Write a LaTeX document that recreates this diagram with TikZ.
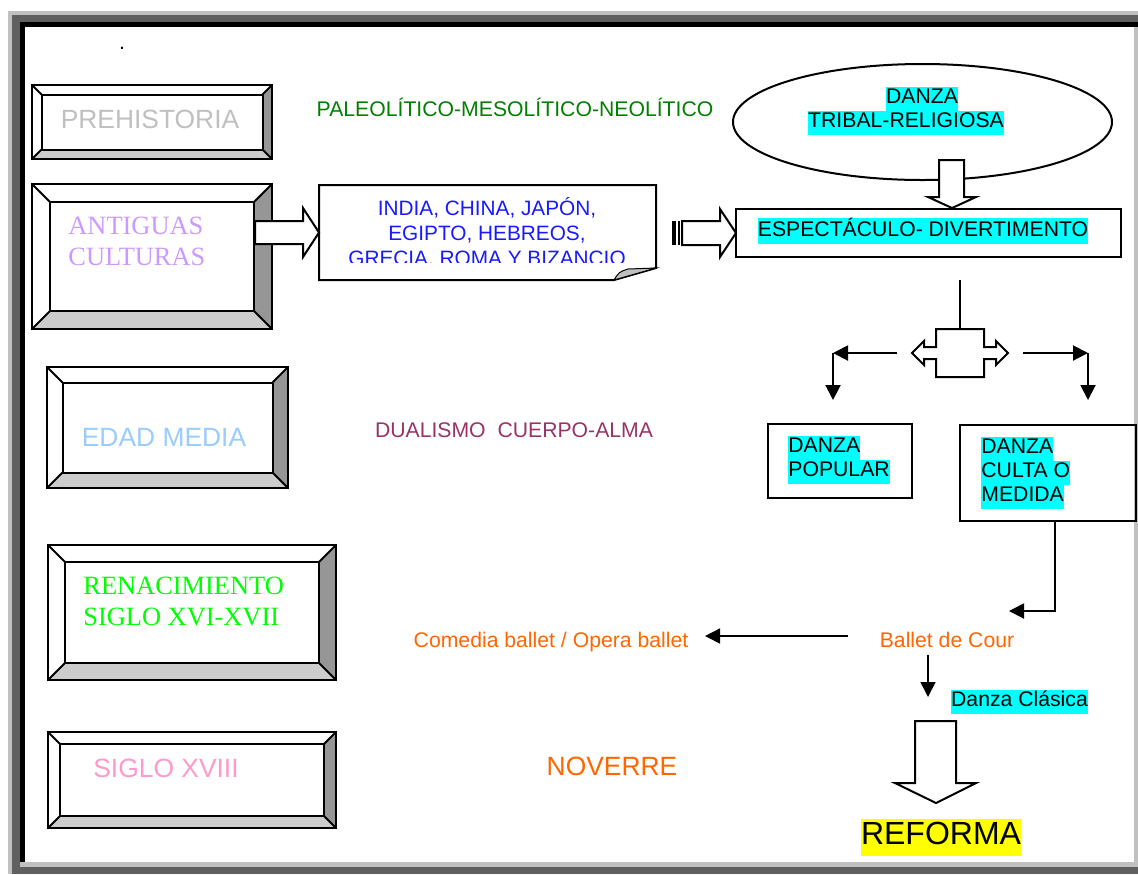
\documentclass[tikz,border=0pt]{standalone}
\usepackage{fontspec}
\setmainfont{Liberation Sans}
\newfontfamily\timesfont{Liberation Serif}
\usetikzlibrary{shapes.geometric,arrows.meta}

\definecolor{prehistgray}{HTML}{C0C0C0}
\definecolor{antiguaslila}{HTML}{CC99FF}
\definecolor{medialblue}{HTML}{99CCFF}
\definecolor{renacgreen}{HTML}{00FF00}
\definecolor{siglopink}{HTML}{FF99CC}
\definecolor{paleogreen}{HTML}{008000}
\definecolor{dualplum}{HTML}{993366}
\definecolor{balletorange}{HTML}{FF6600}
\definecolor{framedark}{HTML}{606060}
\definecolor{bevelright}{HTML}{969696}
\definecolor{bevelbottom}{HTML}{CCCCCC}
\definecolor{markcyan}{HTML}{00FFFF}
\definecolor{markyellow}{HTML}{FFFF00}
\definecolor{textblue}{HTML}{1A1AFF}

\newcommand{\hl}[2][markcyan]{{\setlength{\fboxsep}{0pt}\colorbox{#1}{\strut#2}}}

\newcommand{\bevelbox}[5]{%
	\fill[white] (#1,#2) rectangle (#3,#4);
	\fill[bevelright] (#3,#2) -- (#3,#4) -- (#3-#5,#4-#5) -- (#3-#5,#2+#5) -- cycle;
	\fill[bevelbottom] (#1,#4) -- (#3,#4) -- (#3-#5,#4-#5) -- (#1+#5,#4-#5) -- cycle;
	\draw[line width=1pt] (#1,#2) rectangle (#3,#4) (#1+#5,#2+#5) rectangle (#3-#5,#4-#5);
	\draw[line width=1pt] (#1,#2) -- (#1+#5,#2+#5) (#3,#2) -- (#3-#5,#2+#5) (#1,#4) -- (#1+#5,#4-#5) (#3,#4) -- (#3-#5,#4-#5);
}

\begin{document}
\begin{tikzpicture}[x=0.5pt, y=-0.5pt,
	every node/.style={inner sep=0pt},
	txt/.style={font=\fontsize{10.6}{12}\selectfont},
	era/.style={font=\fontsize{13.2}{15.75}\selectfont},
	oldera/.style={font=\timesfont\fontsize{13.2}{15.75}\selectfont, align=left},
	plainbox/.style={draw, line width=1pt},
	hollow/.style={draw, fill=white, line width=1pt},
	pointer/.style={line width=1pt, -{Triangle[length=7.5pt,width=7.5pt]}}]

	\useasboundingbox (0,0) rectangle (1138,874);
	\fill[prehistgray] (8,11) rectangle (1138,874);
	\fill[framedark] (12,15) rectangle (1138,22);
	\fill[framedark] (12,15) rectangle (20,874);
	\fill[framedark] (12,867) rectangle (1138,874);
	\fill[black] (20,22) rectangle (1138,27);
	\fill[black] (20,22) rectangle (25,862);
	\fill[white] (25,27) rectangle (1134,862);

	\node[txt] (dot) at (122,48) {.};

	\bevelbox{32}{85}{272}{159}{9.5}
	\bevelbox{32}{184}{272}{329}{18}
	\bevelbox{47}{367}{288}{488}{15.5}
	\bevelbox{48}{545}{336}{680}{17}
	\bevelbox{48}{732}{336}{828}{12}

	\node[era, text=prehistgray, anchor=base] (prehistoria) at (150,128) {PREHISTORIA};
	\node[oldera, text=antiguaslila, anchor=base west] (antiguas) at (68,265.5) {ANTIGUAS\\CULTURAS};
	\node[era, text=medialblue, anchor=base] (edadmedia) at (164,446) {EDAD MEDIA};
	\node[oldera, text=renacgreen, anchor=base west] (renacimiento) at (83,625.5) {RENACIMIENTO\\SIGLO XVI-XVII};
	\node[era, text=siglopink, anchor=base] (sigloxviii) at (166,777) {SIGLO XVIII};

	\node[txt, text=paleogreen, anchor=base] (paleolitico) at (515,116) {PALEOLÍTICO-MESOLÍTICO-NEOLÍTICO};
	\node[txt, text=dualplum, anchor=base] (dualismo) at (514,437) {DUALISMO\ \ CUERPO-ALMA};

	\draw[hollow] (319,185) -- (656,185) -- (656,268) -- (614,280) -- (319,280) -- cycle;
	\draw[line width=0.5pt, fill=prehistgray] (614,280) .. controls (619,272) .. (628,269) -- (656,268) -- cycle;
	\begin{scope}
		\clip (319,185) rectangle (656,262);
		\node[text=textblue, align=center, font=\fontsize{10.4}{12.5}\selectfont, anchor=base] (pueblos) at (487,265) {INDIA, CHINA, JAPÓN,\\EGIPTO, HEBREOS,\\GRECIA. ROMA Y BIZANCIO};
	\end{scope}

	\draw[hollow] (255,221) -- (303,221) -- (303,208) -- (319,232.5) -- (303,257) -- (303,244) -- (255,244) -- cycle;

	\node[draw, ellipse, line width=1pt, minimum width=189.5pt, minimum height=58pt] (tribal) at (922.5,122) {};
	\node[txt, align=center] (tribaltxt) at (922,111) {\hl{DANZA}\\\hl{TRIBAL-RELIGIOSA}\rule{16pt}{0pt}};
	\draw[hollow] (939,160) -- (964,160) -- (964,197) -- (976,197) -- (952,208) -- (928,197) -- (939,197) -- cycle;

	\draw[plainbox] (736,209) rectangle (1121,257);
	\node[txt] (espectaculo) at (923,231) {\hl{ESPECTÁCULO- DIVERTIMENTO}};
	\fill[black] (672,221) rectangle (676,245);
	\fill[black] (678,221) rectangle (680,245);
	\draw[hollow] (682,221) -- (720,221) -- (720,209) -- (736,233) -- (720,257) -- (720,245) -- (682,245) -- cycle;

	\coordinate (stemtop) at (960,280);
	\coordinate (splittop) at (960,329);
	\draw[line width=1pt] (stemtop) -- (splittop);
	\draw[hollow] (936,329) -- (984,329) -- (984,347) -- (996,347) -- (996,341) -- (1008,353) -- (996,365) -- (996,359) -- (984,359) -- (984,377) -- (936,377) -- (936,359) -- (924,359) -- (924,365) -- (912,353) -- (924,341) -- (924,347) -- (936,347) -- cycle;

	\coordinate (lstart) at (897,353);
	\coordinate (lcorner) at (833,353);
	\coordinate (ldown) at (833,400);
	\coordinate (rstart) at (1023,353);
	\coordinate (rcorner) at (1088,353);
	\coordinate (rdown) at (1088,400);
	\draw[pointer] (lstart) -- (lcorner);
	\draw[pointer] (lcorner) -- (ldown);
	\draw[pointer] (rstart) -- (rcorner);
	\draw[pointer] (rcorner) -- (rdown);

	\draw[plainbox] (768,424) rectangle (912,498);
	\node[txt, align=left, anchor=west] (popular) at (788,459.5) {\hl{DANZA}\\\hl{POPULAR}};
	\draw[plainbox] (960,425) rectangle (1136,521);
	\node[txt, align=left, anchor=west] (culta) at (981,472.5) {\hl{DANZA}\\\hl{CULTA O}\\\hl{MEDIDA}};

	\node[txt, text=balletorange, anchor=base] (cour) at (947,647) {Ballet de Cour};
	\node[txt, text=balletorange, anchor=base] (comedia) at (551,647) {Comedia ballet / Opera ballet};
	\coordinate (cultadrop) at (1055,521);
	\coordinate (courin) at (1009,611);
	\draw[pointer] (cultadrop) |- (courin);
	\coordinate (courleft) at (848,636);
	\coordinate (comediaright) at (705,636);
	\draw[pointer, line width=0.75pt] (courleft) -- (comediaright);
	\coordinate (courbelow) at (928,655);
	\coordinate (clasicatop) at (928,697);
	\draw[pointer, line width=0.75pt] (courbelow) -- (clasicatop);
	\node[txt] (clasica) at (1019.5,701.5) {\hl{Danza Clásica}};

	\node[font=\fontsize{13.2}{15.75}\selectfont, text=balletorange, anchor=base] (noverre) at (612,775) {NOVERRE};
	\draw[hollow] (915,721) -- (956,721) -- (956,783) -- (976,783) -- (936,803) -- (895,783) -- (915,783) -- cycle;
	\node[font=\fontsize{16}{18.5}\selectfont] (reforma) at (941,837.5) {\hl[markyellow]{REFORMA}};

\end{tikzpicture}
\end{document}
